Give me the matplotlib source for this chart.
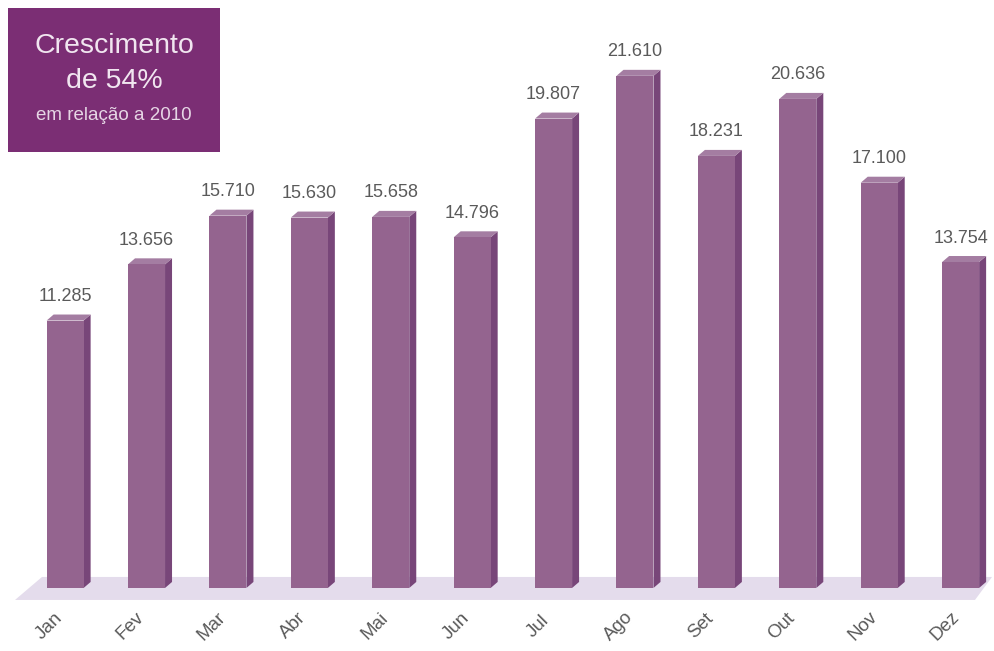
import matplotlib.pyplot as plt
from matplotlib.patches import Polygon, Rectangle

months = ["Jan", "Fev", "Mar", "Abr", "Mai", "Jun", "Jul", "Ago", "Set", "Out", "Nov", "Dez"]
values = [11285, 13656, 15710, 15630, 15658, 14796, 19807, 21610, 18231, 20636, 17100, 13754]

front = "#94648f"
side = "#784679"
top = "#a47da2"
floor = "#e4dcec"
box = "#7b2e74"
label_color = "#5a5a5a"
font = "Liberation Sans"

fig = plt.figure(figsize=(9.94, 6.51), dpi=100)
ax = fig.add_axes([0, 0, 1, 1])
ax.set_xlim(-0.80, 11.41)
ax.set_ylim(-2660, 24810)
ax.axis("off")

# pixel -> data unit helpers
px_x = 12.21 / 994
px_y = 27470 / 651

width = 37 * px_x
dx, dy = 7 * px_x, 6 * px_y

# floor slab under the bars
floor_pts = [(-0.80 + 15 * px_x, -12 * px_y), (-0.80 + 975 * px_x, -12 * px_y),
             (-0.80 + 992 * px_x, 11 * px_y), (-0.80 + 42 * px_x, 11 * px_y)]
ax.add_patch(Polygon(floor_pts, closed=True, color=floor, lw=0, zorder=1))

xs = range(len(months))
ax.bar(xs, values, width=width, color=front, zorder=3, linewidth=0)

for i, v in zip(xs, values):
    x0, x1 = i - width / 2, i + width / 2
    ax.add_patch(Polygon([(x1, 0), (x1 + dx, dy), (x1 + dx, v + dy), (x1, v)],
                         closed=True, color=side, lw=0, zorder=2))
    ax.add_patch(Polygon([(x0, v), (x1, v), (x1 + dx, v + dy), (x0 + dx, v + dy)],
                         closed=True, color=top, lw=0, zorder=2))
    ax.text(i, v + 24 * px_y, f"{v:,}".replace(",", "."), ha="center", va="center",
            fontsize=13, color=label_color, family=font)
    ax.text(i - 16 * px_x, -38 * px_y, months[i], ha="center", va="center", rotation=45,
            fontsize=13.5, color=label_color, family=font)

# highlight box in the top-left corner
ax.add_patch(Rectangle((8 / 994, 1 - 152 / 651), 212 / 994, 144 / 651,
                       transform=fig.transFigure, color=box, lw=0, zorder=5))
ax.text(114 / 994, 1 - 46 / 651, "Crescimento", transform=fig.transFigure,
        ha="center", va="center", fontsize=20.5, color="#f1e6f0", family=font, zorder=6)
ax.text(114 / 994, 1 - 81 / 651, "de 54%", transform=fig.transFigure,
        ha="center", va="center", fontsize=20.5, color="#f1e6f0", family=font, zorder=6)
ax.text(114 / 994, 1 - 115 / 651, "em relação a 2010", transform=fig.transFigure,
        ha="center", va="center", fontsize=13.5, color="#e6d6e5", family=font, zorder=6)

fig.savefig("out.png", dpi=100, facecolor="white")
